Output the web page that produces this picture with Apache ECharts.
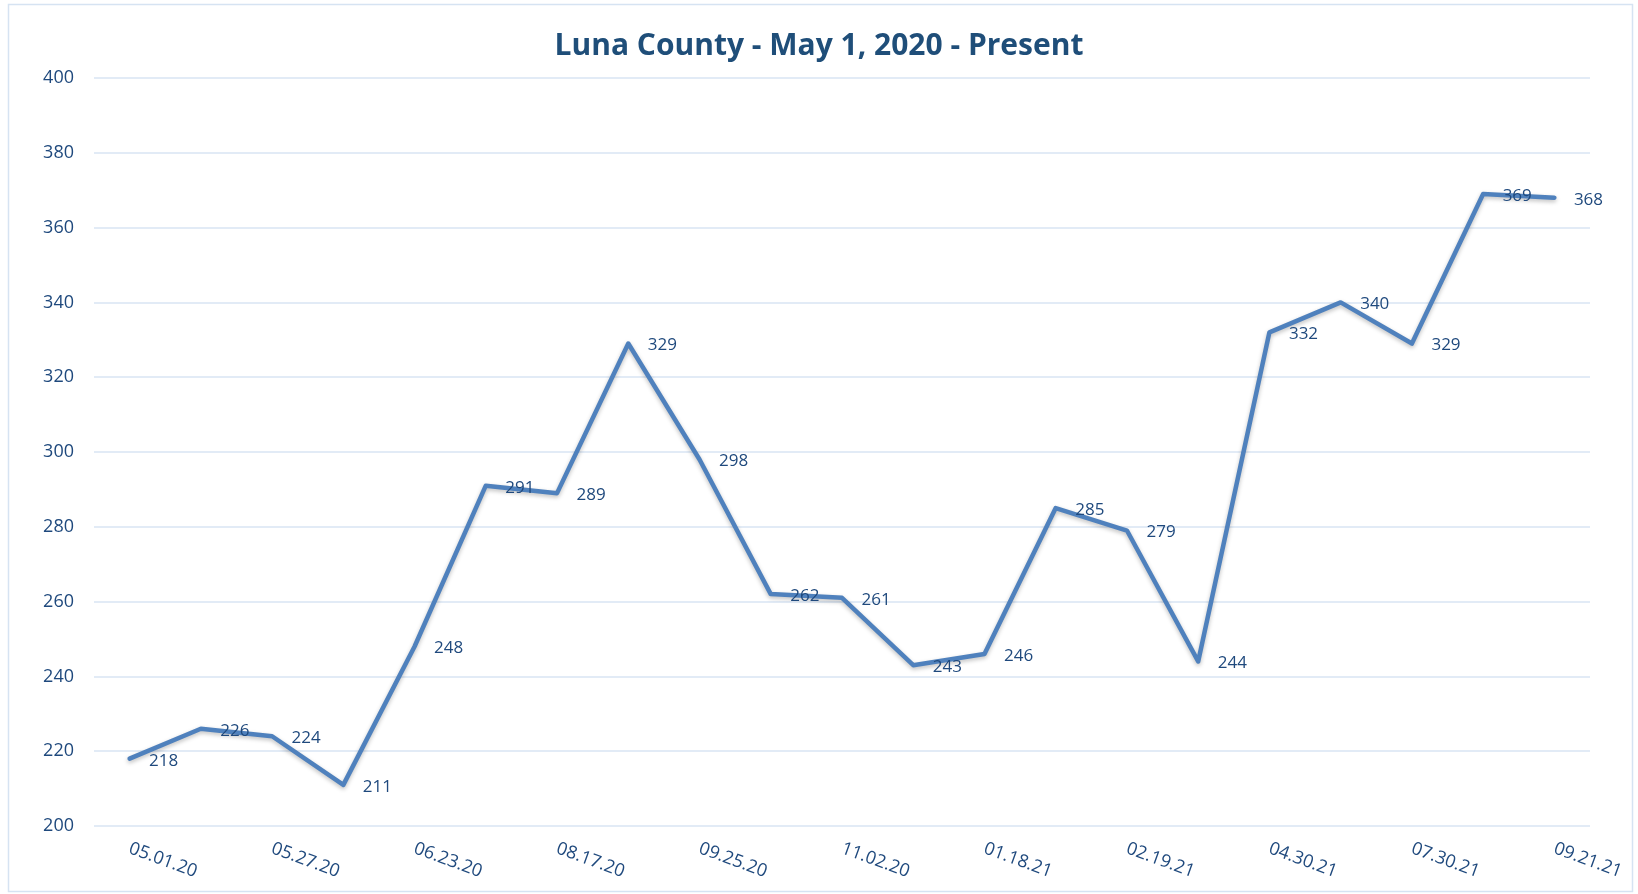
<!DOCTYPE html>
<html><head><meta charset="utf-8">
<script src="https://cdn.jsdelivr.net/npm/echarts@6/dist/echarts.min.js"></script>
<style>html,body{margin:0;padding:0;background:#fff}#c{width:1638px;height:894px}</style>
</head><body><div id="c"></div>
<script>
const categories = ['05.01.20','','05.27.20','','06.23.20','','08.17.20','','09.25.20','','11.02.20','','01.18.21','','02.19.21','','04.30.21','','07.30.21','','09.21.21'];
const values = [218,226,224,211,248,291,289,329,298,262,261,243,246,285,279,244,332,340,329,369,368];
const yTicks = {min:200, max:400, interval:20};
const titleText = 'Luna County - May 1, 2020 - Present';
const font = 'Open Sans, Noto Sans, sans-serif';
const chart = echarts.init(document.getElementById('c'));
chart.setOption({
  animation:false,
  backgroundColor:'#fff',
  title:{text:titleText,left:'center',top:26,textStyle:{fontFamily:font,fontSize:30,fontWeight:'bold',color:'#1f4e79'}},
  graphic:[{type:'rect',shape:{x:8.5,y:4.5,width:1624,height:887},style:{fill:null,stroke:'#d6e3f2',lineWidth:1.5},silent:true}],
  grid:{left:94,right:48,top:78,bottom:68,containLabel:false},
  xAxis:{type:'category',data:categories,boundaryGap:true,
    axisLine:{show:false},axisTick:{show:false},
    axisLabel:{interval:0,rotate:-20,margin:22,fontFamily:font,fontSize:18,color:'#1f497d'}},
  yAxis:{type:'value',min:yTicks.min,max:yTicks.max,interval:yTicks.interval,
    axisLine:{show:false},axisTick:{show:false},
    splitLine:{lineStyle:{color:'#d9e5f3',width:1.5}},
    axisLabel:{margin:20,fontFamily:font,fontSize:18,color:'#1f497d'}},
  series:[{type:'line',data:values,symbol:'circle',symbolSize:1,showSymbol:true,
    itemStyle:{color:'rgba(0,0,0,0)'},
    lineStyle:{color:'#4f81bd',width:4.5,shadowColor:'rgba(0,0,0,0.25)',shadowBlur:4,shadowOffsetY:2,cap:'round',join:'round'},
    label:{show:true,position:'right',distance:19,offset:[0,2],fontFamily:font,fontSize:17,color:'#1f497d'}}]
});
</script></body></html>
